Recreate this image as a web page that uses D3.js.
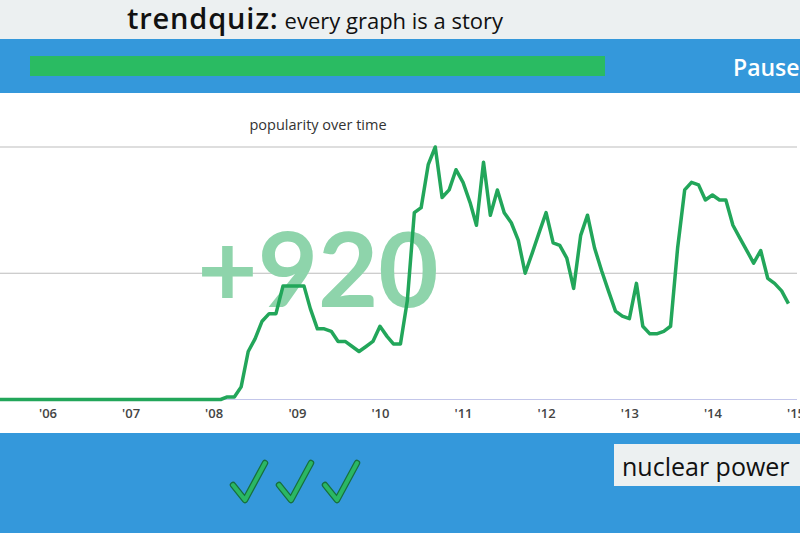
<!DOCTYPE html>
<html>
<head>
<meta charset="utf-8">
<script src="https://cdn.jsdelivr.net/npm/d3@7"></script>
<style>
  html, body { margin: 0; padding: 0; background: #ffffff; }
  svg { display: block; font-family: "Open Sans", "Lato", sans-serif; }
</style>
</head>
<body>
<svg id="chart" width="800" height="533"></svg>
<script>
// monthly popularity, starting June 2005
const startMonth = "2005-06";
const popularity = [
  0, 0, 0, 0, 0, 0, 0,
  0, 0, 0, 0, 0, 0, 0, 0, 0, 0, 0, 0,
  0, 0, 0, 0, 0, 0, 0, 0, 0, 0, 0, 0,
  0, 0, 1, 1, 5, 19, 24, 31, 34, 34, 45, 45,
  45, 45, 36, 28, 28, 27, 23, 23, 21, 19, 21, 23,
  29, 25, 22, 22, 39, 74, 76, 93, 100, 80, 83, 91,
  86, 78, 69, 94, 73, 83, 74, 70, 63, 50, 58, 66,
  74, 62, 61, 56, 44, 65, 73, 60, 51, 43, 35, 33,
  32, 46, 29, 26, 26, 27, 29, 60, 83, 86, 85, 79,
  81, 79, 79, 69, 64, 59, 54, 59, 48, 46, 43, 38
];
const yearTicks = [2006, 2007, 2008, 2009, 2010, 2011, 2012, 2013, 2014, 2015];
const gridValues = [50, 100];
const bigNumber = "+920";
const answer = "nuclear power";
const checks = [0, 1, 2];

const svg = d3.select("#chart");
const W = 800;

// top header band
svg.append("rect").attr("x", 0).attr("y", 0).attr("width", W).attr("height", 39).attr("fill", "#ecf0f1");
const title = svg.append("text").attr("x", 127).attr("y", 29).attr("fill", "#111");
title.append("tspan").attr("font-size", 29).attr("font-weight", 600).attr("letter-spacing", 0.8).text("trendquiz:");
title.append("tspan").attr("font-size", 22).attr("dx", 6).text("every graph is a story");

// blue band with progress
svg.append("rect").attr("x", 0).attr("y", 39).attr("width", W).attr("height", 54).attr("fill", "#3498db");
svg.append("rect").attr("x", 30).attr("y", 56).attr("width", 575).attr("height", 20).attr("fill", "#2abb62");
svg.append("text").attr("x", 733).attr("y", 76).attr("fill", "#fff")
  .attr("font-size", 23).attr("font-weight", 600).text("Pause");

// chart area
svg.append("rect").attr("x", 0).attr("y", 93).attr("width", W).attr("height", 340).attr("fill", "#fff");
svg.append("text").attr("x", 318).attr("y", 130).attr("text-anchor", "middle")
  .attr("font-size", 14.5).attr("fill", "#333").text("popularity over time");

const parseMonth = d3.timeParse("%Y-%m");
const dates = d3.timeMonth.range(parseMonth(startMonth), d3.timeMonth.offset(parseMonth(startMonth), popularity.length));
const data = dates.map((d, i) => ({ date: d, value: popularity[i] }));

const x = d3.scaleTime()
  .domain([new Date(2006, 0, 1), new Date(2015, 0, 1)])
  .range([47.5, 795.5]);
const y = d3.scaleLinear().domain([0, 100]).range([399.5, 147]);

svg.append("g").selectAll("line").data(gridValues).join("line")
  .attr("x1", 0).attr("x2", 797)
  .attr("y1", d => y(d)).attr("y2", d => y(d))
  .attr("stroke", "#bdbdbd").attr("stroke-width", 1.2);

svg.append("line").attr("x1", 0).attr("x2", 797)
  .attr("y1", y(0)).attr("y2", y(0))
  .attr("stroke", "#c3c6ea").attr("stroke-width", 1.2);

// big score behind the line
svg.append("text").attr("x", 318).attr("y", 307).attr("text-anchor", "middle")
  .attr("font-family", "Lato, sans-serif")
  .attr("font-size", 104).attr("font-weight", 700).attr("fill", "#8ed4ab")
  .text(bigNumber);

const xAxis = d3.axisBottom(x)
  .tickValues(yearTicks.map(yr => new Date(yr, 0, 1)))
  .tickFormat(d => "'" + d3.timeFormat("%y")(d))
  .tickSize(0).tickPadding(9);
const axisG = svg.append("g").attr("transform", `translate(0,${y(0)})`).call(xAxis);
axisG.select(".domain").remove();
axisG.selectAll("text").attr("font-family", "'Open Sans', sans-serif")
  .attr("font-size", 13).attr("font-weight", 600).attr("fill", "#444");

svg.append("path").datum(data)
  .attr("fill", "none").attr("stroke", "#22a65a").attr("stroke-width", 3.5)
  .attr("stroke-linejoin", "round")
  .attr("d", d3.line().x(d => x(d.date)).y(d => y(d.value)));

// bottom band
svg.append("rect").attr("x", 0).attr("y", 433).attr("width", W).attr("height", 100).attr("fill", "#3498db");
svg.append("rect").attr("x", 614).attr("y", 444).attr("width", 190).attr("height", 42).attr("fill", "#ecf0f1");
svg.append("text").attr("x", 622).attr("y", 476).attr("font-family", "'Open Sans', sans-serif")
  .attr("font-size", 25).attr("fill", "#111").text(answer);

// hand-drawn style check marks
const checkShape = d3.line()([[0, 22], [12, 37], [32, 0]]);
const checkG = svg.append("g").selectAll("g").data(checks).join("g")
  .attr("transform", d => `translate(${233 + d * 46},463)`);
checkG.append("path").attr("d", checkShape).attr("fill", "none")
  .attr("stroke", "#17703d").attr("stroke-width", 6.5)
  .attr("stroke-linecap", "round").attr("stroke-linejoin", "round");
checkG.append("path").attr("d", checkShape).attr("fill", "none")
  .attr("stroke", "#2ab764").attr("stroke-width", 4)
  .attr("stroke-linecap", "round").attr("stroke-linejoin", "round");
</script>
</body>
</html>
